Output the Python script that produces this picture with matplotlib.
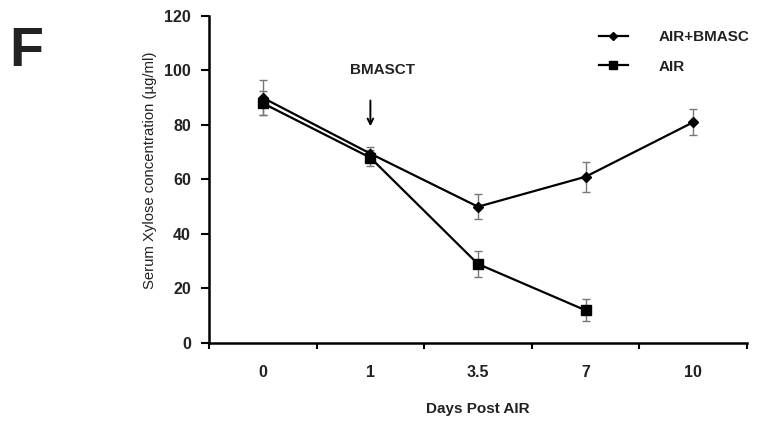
import numpy as np
import matplotlib.pyplot as plt
from matplotlib.lines import Line2D

plt.rcParams['font.family'] = ['Liberation Sans', 'DejaVu Sans']

days = ['0', '1', '3.5', '7', '10']
bmasc_mean = [90, 69.5, 50, 61, 81]
bmasc_err = [6.5, 2.5, 4.6, 5.5, 4.7]
air_mean = [88, 68, 29, 12]
air_err = [4.5, 3, 4.8, 4]

fig = plt.figure(figsize=(7.64, 4.21), dpi=100)
ax = fig.add_axes([0.2736, 0.1853, 0.704, 0.7767])

x = np.arange(len(days))
ax.errorbar(x, bmasc_mean, yerr=bmasc_err, color='black', lw=1.6, marker='D', ms=5,
            ecolor='#777777', elinewidth=1, capsize=3, capthick=1, zorder=3)
ax.errorbar(x[:len(air_mean)], air_mean, yerr=air_err, color='black', lw=1.6, marker='s', ms=7.5,
            ecolor='#777777', elinewidth=1, capsize=3, capthick=1, zorder=3)

ax.set_xlim(-0.5, len(days) - 0.5)
ax.set_ylim(0, 120)
ax.set_yticks(np.arange(0, 121, 20))
ax.set_xticks(x)
ax.set_xticklabels(days)
ax.set_xticks(np.arange(-0.5, len(days), 1), minor=True)
ax.tick_params(axis='x', which='major', length=0, pad=16, labelsize=11.5)
ax.tick_params(axis='x', which='minor', length=4, width=1.5, direction='out')
ax.tick_params(axis='y', length=6, width=1.5, direction='out', pad=7, labelsize=11.5)
for lab in ax.get_xticklabels() + ax.get_yticklabels():
    lab.set_fontweight('bold')
    lab.set_color('#222222')

for s in ['top', 'right']:
    ax.spines[s].set_visible(False)
for s in ['left', 'bottom']:
    ax.spines[s].set_linewidth(1.8)

ax.set_xlabel('Days Post AIR', fontsize=11, fontweight='bold', labelpad=16, color='#222222')
ax.set_ylabel('Serum Xylose concentration (µg/ml)', fontsize=10.7, color='#222222')
ax.yaxis.set_label_coords(-0.097, 0.527)

# treatment arrow
ax.annotate('', xy=(1, 78.5), xytext=(1, 90),
            arrowprops=dict(arrowstyle='->', color='black', lw=1.4))
ax.text(1.11, 100, 'BMASCT', ha='center', va='center', fontsize=11, fontweight='bold',
        color='#222222')

handles = [Line2D([], [], color='black', lw=1.6, marker='D', ms=4),
           Line2D([], [], color='black', lw=1.6, marker='s', ms=6)]
leg = ax.legend(handles, ['AIR+BMASC', 'AIR'], loc='upper left', bbox_to_anchor=(0.713, 0.975),
                frameon=False, fontsize=11, handlelength=1.9, labelspacing=1.0,
                handletextpad=2.0, borderaxespad=0)
for t in leg.get_texts():
    t.set_fontweight('bold')
    t.set_color('#222222')

fig.text(0.034, 0.877, 'F', fontsize=40, fontweight='bold', color='#222222', ha='center', va='center')

fig.savefig('out.png', dpi=100)
